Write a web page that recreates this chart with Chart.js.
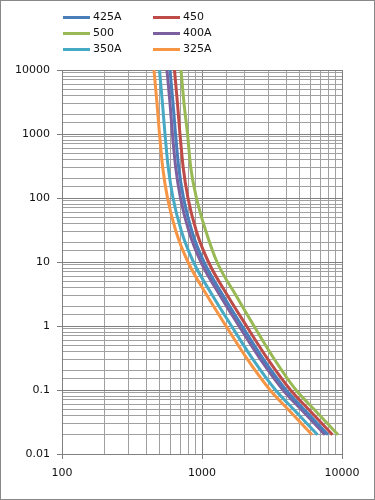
<!DOCTYPE html>
<html>
<head>
<meta charset="utf-8">
<script src="https://cdn.jsdelivr.net/npm/chart.js@4.4.1/dist/chart.umd.min.js"></script>
<style>
  html, body { margin: 0; padding: 0; background: #fff; }
  #wrap { position: relative; width: 375px; height: 500px; }
  #chart { position: absolute; left: 0; top: 0; }
  #frame { position: absolute; left: 0; top: 0; width: 375px; height: 500px;
           box-sizing: border-box; border: 1px solid #888; pointer-events: none; }
  #legend { position: absolute; left: 0; top: 0; font: 11px "DejaVu Sans", sans-serif; color: #111; }
  .item { position: absolute; height: 14px; line-height: 14px; white-space: nowrap; }
  .item span.sw { position: absolute; left: 0; top: 6px; width: 27px; height: 3px; }
  .item span.tx { position: absolute; left: 30px; top: 0; }
</style>
</head>
<body>
<div id="wrap">
  <canvas id="chart" width="375" height="500"></canvas>
  <div id="legend"></div>
  <div id="frame"></div>
</div>
<script>
// time (s) read at these levels for every curve
var times = [10000, 3000, 1000, 300, 100, 30, 10, 3, 1, 0.3, 0.1, 0.05, 0.02];

// current (A) for each curve at the times above
var amps425 = [591, 621, 647, 682, 738, 848, 1033, 1413, 1931, 2749, 3981, 5353, 7943];
var amps450 = [636, 668, 696, 734, 794, 913, 1112, 1521, 2079, 2960, 4287, 5765, 8553];
var amps500 = [708, 744, 788, 831, 913, 1068, 1280, 1750, 2352, 3296, 4692, 6309, 9363];
var amps400 = [562, 591, 615, 649, 702, 807, 983, 1345, 1838, 2617, 3790, 5095, 7560];
var amps350 = [497, 522, 544, 574, 621, 714, 869, 1189, 1624, 2313, 3350, 4504, 6683];
var amps325 = [454, 477, 497, 524, 567, 652, 794, 1086, 1484, 2113, 3060, 4114, 6105];

var seriesNames = ['425A', '450', '500', '400A', '350A', '325A'];
var seriesColors = ['#4A7EBB', '#BE4B48', '#98B954', '#7D60A0', '#46AAC5', '#F69544'];
var seriesAmps = [amps425, amps450, amps500, amps400, amps350, amps325];

var xTickLabels = [100, 1000, 10000];
var yTickLabels = [0.01, 0.1, 1, 10, 100, 1000, 10000];

function findLabel(list, v) {
  return list.find(function(t) { return Math.abs(t - v) / t < 1e-6; });
}

function toPoints(amps) {
  return amps.map(function(a, i) { return { x: a, y: times[i] }; });
}

var datasets = seriesNames.map(function(name, i) {
  return {
    label: name,
    data: toPoints(seriesAmps[i]),
    borderColor: seriesColors[i],
    backgroundColor: seriesColors[i],
    borderWidth: 3,
    pointRadius: 0,
    showLine: true,
    cubicInterpolationMode: 'monotone',
    fill: false
  };
});

// HTML legend, two columns
var legend = document.getElementById('legend');
seriesNames.forEach(function(name, i) {
  var col = i % 2, row = Math.floor(i / 2);
  var el = document.createElement('div');
  el.className = 'item';
  el.style.left = (63 + col * 90) + 'px';
  el.style.top = (10 + row * 16) + 'px';
  el.innerHTML = '<span class="sw" style="background:' + seriesColors[i] + '"></span><span class="tx"></span>';
  el.querySelector('.tx').textContent = name;
  legend.appendChild(el);
});

var tickFont = { family: '"DejaVu Sans", sans-serif', size: 11 };

function gridColor(ctx) { return ctx.tick && ctx.tick.major ? '#808080' : '#a0a0a0'; }

function axisOptions(min, max, labels) {
  return {
    type: 'logarithmic',
    min: min,
    max: max,
    border: { color: '#808080', width: 1 },
    grid: {
      color: gridColor,
      tickColor: function(ctx) { return findLabel(labels, ctx.tick.value) !== undefined ? '#808080' : 'rgba(0,0,0,0)'; },
      tickLength: 5
    },
    ticks: {
      autoSkip: false,
      maxRotation: 0,
      color: '#111',
      font: tickFont,
      callback: function(v) {
        var t = findLabel(labels, v);
        return t === undefined ? '' : String(t);
      }
    }
  };
}

var xAxis = axisOptions(100, 10000, xTickLabels);
xAxis.afterFit = function(s) { s.height = 46; };
xAxis.ticks.padding = 8;

var yAxis = axisOptions(0.01, 10000, yTickLabels);
yAxis.afterFit = function(s) { s.width = 62; };
yAxis.ticks.padding = 7;

new Chart(document.getElementById('chart').getContext('2d'), {
  type: 'scatter',
  data: { datasets: datasets },
  options: {
    responsive: false,
    animation: false,
    layout: { padding: { top: 70, right: 33, left: 0, bottom: 0 } },
    plugins: { legend: { display: false }, tooltip: { enabled: false } },
    scales: { x: xAxis, y: yAxis }
  }
});
</script>
</body>
</html>
